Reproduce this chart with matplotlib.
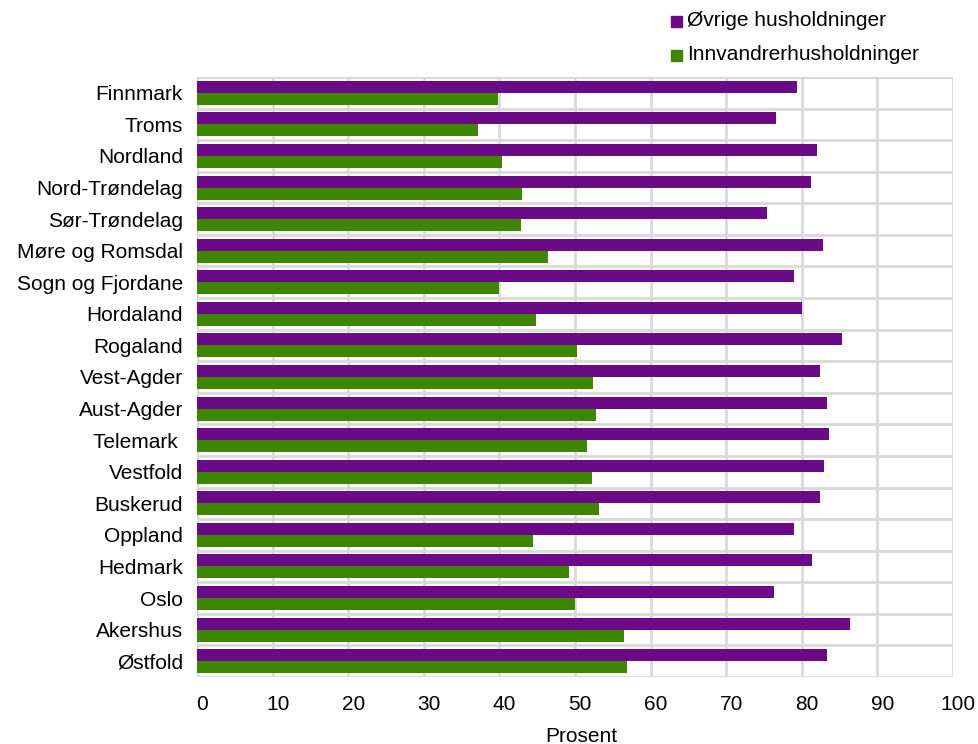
import matplotlib
matplotlib.use("Agg")
import matplotlib.pyplot as plt
from matplotlib.patches import Rectangle
from matplotlib.transforms import ScaledTranslation
import numpy as np

plt.rcParams['font.family'] = ['Liberation Sans', 'DejaVu Sans']

categories = ["Finnmark", "Troms", "Nordland", "Nord-Trøndelag", "Sør-Trøndelag",
              "Møre og Romsdal", "Sogn og Fjordane", "Hordaland", "Rogaland",
              "Vest-Agder", "Aust-Agder", "Telemark ", "Vestfold", "Buskerud",
              "Oppland", "Hedmark", "Oslo", "Akershus", "Østfold"]
ovrige = [79.4, 76.6, 82.0, 81.2, 75.4, 82.8, 79.0, 80.0, 85.3, 82.4, 83.3, 83.6,
          82.9, 82.4, 79.0, 81.3, 76.3, 86.4, 83.3]
innvandrer = [39.8, 37.2, 40.3, 43.0, 42.9, 46.4, 39.9, 44.8, 50.3, 52.4, 52.8, 51.6,
              52.2, 53.2, 44.4, 49.2, 50.0, 56.5, 56.9]
series_names = ["Øvrige husholdninger", "Innvandrerhusholdninger"]
xticks = list(range(0, 101, 10))

purple = "#6b0a86"
green = "#3f8600"
gridc = "#d9d9d9"
fs = 15

fig = plt.figure(figsize=(9.79, 7.44), dpi=100)
ax = fig.add_axes([197/979, 1-677/744, (953-197)/979, (677-77)/744])

n = len(categories)
y = np.arange(n)
h = 0.38
ax.barh(y - h/2, ovrige, height=h, color=purple, zorder=3, label=series_names[0])
ax.barh(y + h/2, innvandrer, height=h, color=green, zorder=3, label=series_names[1])

ax.set_ylim(n - 0.5, -0.5)
ax.set_xlim(0, 100)
for b in np.arange(-0.5, n, 1.0):
    ax.axhline(b, color=gridc, lw=2, zorder=1)
for t in xticks:
    ax.axvline(t, color=gridc, lw=2, zorder=1)
for s in ax.spines.values():
    s.set_visible(False)

ax.set_yticks(y)
ax.set_yticklabels(categories, fontsize=fs)
ax.set_xticks(xticks)
ax.set_xticklabels([str(t) for t in xticks], fontsize=fs)
ax.tick_params(length=0)
ax.tick_params(axis='x', pad=13)
ax.tick_params(axis='y', pad=10)
shift = ScaledTranslation(5/100, 0, fig.dpi_scale_trans)
for lab in ax.get_xticklabels():
    lab.set_transform(lab.get_transform() + shift)
ax.set_xlabel("Prosent", fontsize=fs, labelpad=9)
ax.xaxis.label.set_transform(ax.xaxis.label.get_transform() + ScaledTranslation(6/100, 0, fig.dpi_scale_trans))

# legend drawn manually in figure pixel coordinates
W, H = 979, 744
for (name, col, yc) in [(series_names[0], purple, 21), (series_names[1], green, 55)]:
    fig.patches.append(Rectangle((671/W, 1-(yc+5.5)/H), 11/W, 11/H, color=col,
                                 transform=fig.transFigure, figure=fig))
    fig.text(687/W, 1-yc/H, name, fontsize=fs, va='center', ha='left')

fig.savefig("out.png", dpi=100)
